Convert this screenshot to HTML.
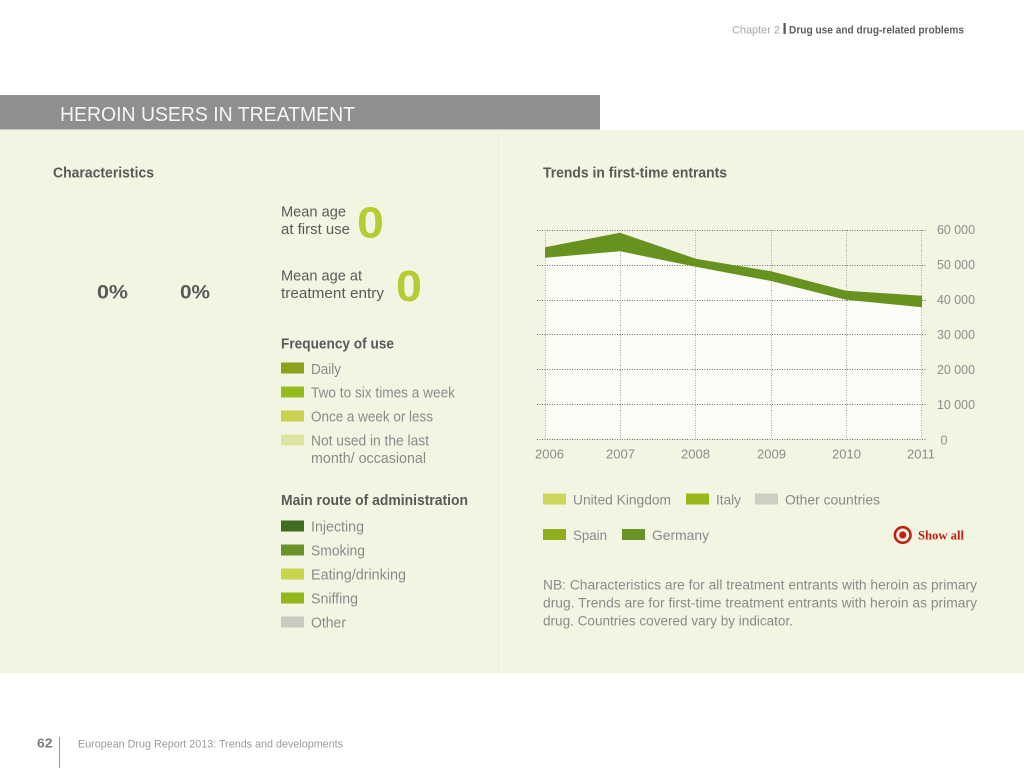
<!DOCTYPE html>
<html><head><meta charset="utf-8"><style>
html,body{margin:0;padding:0;background:#fff;}
svg{display:block;font-family:"Liberation Sans",sans-serif;}
</style></head><body>
<svg width="1024" height="768" viewBox="0 0 1024 768" xmlns="http://www.w3.org/2000/svg">
<rect x="0" y="0" width="1024" height="768" fill="#ffffff"/>
<!-- header -->
<text x="732" y="33.5" font-size="11" fill="#a8a8a8" textLength="48" lengthAdjust="spacingAndGlyphs">Chapter 2</text>
<rect x="783.5" y="23" width="2.2" height="11" fill="#555"/>
<text x="789" y="33.5" font-size="11" font-weight="bold" fill="#5e5e5e" textLength="175" lengthAdjust="spacingAndGlyphs">Drug use and drug-related problems</text>

<!-- panel -->
<rect x="0" y="130" width="1024" height="543" fill="#f2f5e2"/>
<rect x="0" y="130" width="498" height="543" fill="#f3f5e3"/>
<rect x="498" y="130" width="1" height="543" fill="#eceedb"/>
<!-- title bar -->
<rect x="0" y="95" width="600" height="34.5" fill="#8f8f91"/>
<text x="60" y="121" font-size="20" fill="#f6f6f6" textLength="295" lengthAdjust="spacingAndGlyphs">HEROIN USERS IN TREATMENT</text>

<!-- left panel -->
<text x="53" y="177.5" font-size="14.5" font-weight="bold" fill="#595959" textLength="101" lengthAdjust="spacingAndGlyphs">Characteristics</text>
<text x="97" y="298.5" font-size="19" font-weight="bold" fill="#5a5a5a" textLength="31" lengthAdjust="spacingAndGlyphs">0%</text>
<text x="180" y="298.5" font-size="19" font-weight="bold" fill="#5a5a5a" textLength="30" lengthAdjust="spacingAndGlyphs">0%</text>

<text x="281" y="216.5" font-size="14.5" fill="#5a5a5a" textLength="65" lengthAdjust="spacingAndGlyphs">Mean age</text>
<text x="281" y="234" font-size="14.5" fill="#5a5a5a" textLength="69" lengthAdjust="spacingAndGlyphs">at first use</text>
<text x="357" y="237.5" font-size="44" font-weight="bold" fill="#b7cb33" textLength="27" lengthAdjust="spacingAndGlyphs">0</text>

<text x="281" y="280.5" font-size="14.5" fill="#5a5a5a" textLength="81" lengthAdjust="spacingAndGlyphs">Mean age at</text>
<text x="281" y="298" font-size="14.5" fill="#5a5a5a" textLength="103" lengthAdjust="spacingAndGlyphs">treatment entry</text>
<text x="396" y="301" font-size="44" font-weight="bold" fill="#b7cb33" textLength="26" lengthAdjust="spacingAndGlyphs">0</text>

<text x="281" y="348.5" font-size="14.5" font-weight="bold" fill="#595959" textLength="113" lengthAdjust="spacingAndGlyphs">Frequency of use</text>
<rect x="281" y="362.5" width="23" height="11" fill="#8ba21d"/>
<text x="311" y="374" font-size="14.5" fill="#8a8a8a" textLength="30" lengthAdjust="spacingAndGlyphs">Daily</text>
<rect x="281" y="386.5" width="23" height="11" fill="#97bb1a"/>
<text x="311" y="397.5" font-size="14.5" fill="#8a8a8a" textLength="144" lengthAdjust="spacingAndGlyphs">Two to six times a week</text>
<rect x="281" y="410.5" width="23" height="11" fill="#c9d14f"/>
<text x="311" y="421.5" font-size="14.5" fill="#8a8a8a" textLength="122" lengthAdjust="spacingAndGlyphs">Once a week or less</text>
<rect x="281" y="434.5" width="23" height="11" fill="#dde3a0"/>
<text x="311" y="445.5" font-size="14.5" fill="#8a8a8a" textLength="118" lengthAdjust="spacingAndGlyphs">Not used in the last</text>
<text x="311" y="463" font-size="14.5" fill="#8a8a8a" textLength="115" lengthAdjust="spacingAndGlyphs">month/ occasional</text>

<text x="281" y="505" font-size="14.5" font-weight="bold" fill="#595959" textLength="187" lengthAdjust="spacingAndGlyphs">Main route of administration</text>
<rect x="281" y="520.5" width="23" height="11" fill="#3f6c20"/>
<text x="311" y="531.5" font-size="14.5" fill="#8a8a8a" textLength="53" lengthAdjust="spacingAndGlyphs">Injecting</text>
<rect x="281" y="544.5" width="23" height="11" fill="#6b9329"/>
<text x="311" y="555.5" font-size="14.5" fill="#8a8a8a" textLength="54" lengthAdjust="spacingAndGlyphs">Smoking</text>
<rect x="281" y="568.5" width="23" height="11" fill="#c9d44d"/>
<text x="311" y="579.5" font-size="14.5" fill="#8a8a8a" textLength="95" lengthAdjust="spacingAndGlyphs">Eating/drinking</text>
<rect x="281" y="592.5" width="23" height="11" fill="#91b71b"/>
<text x="311" y="603.5" font-size="14.5" fill="#8a8a8a" textLength="47" lengthAdjust="spacingAndGlyphs">Sniffing</text>
<rect x="281" y="616.5" width="23" height="11" fill="#c9cbc0"/>
<text x="311" y="627.5" font-size="14.5" fill="#8a8a8a" textLength="35" lengthAdjust="spacingAndGlyphs">Other</text>

<!-- right panel -->
<text x="543" y="177.5" font-size="14.5" font-weight="bold" fill="#595959" textLength="184" lengthAdjust="spacingAndGlyphs">Trends in first-time entrants</text>

<!-- plot light fill -->
<polygon points="545,257.7 620,251.3 695.7,266.7 771,281 846,299.7 922,307.3 922,439.3 545,439.3" fill="#fbfcf6"/>

<!-- horizontal gridlines -->
<g stroke="#6e6e6e" stroke-width="1" stroke-dasharray="1,1.5">
<line x1="537" y1="230.5" x2="927" y2="230.5"/>
<line x1="537" y1="265.5" x2="927" y2="265.5"/>
<line x1="537" y1="300.5" x2="927" y2="300.5"/>
<line x1="537" y1="334.5" x2="927" y2="334.5"/>
<line x1="537" y1="369.5" x2="927" y2="369.5"/>
<line x1="537" y1="404.5" x2="927" y2="404.5"/>
<line x1="537" y1="439.5" x2="927" y2="439.5"/>
</g>
<!-- vertical gridlines -->
<g stroke="#a5a5a5" stroke-width="1" stroke-dasharray="1,1.5">
<line x1="545.5" y1="230" x2="545.5" y2="439"/>
<line x1="620.5" y1="230" x2="620.5" y2="439"/>
<line x1="695.5" y1="230" x2="695.5" y2="439"/>
<line x1="771.5" y1="230" x2="771.5" y2="439"/>
<line x1="846.5" y1="230" x2="846.5" y2="439"/>
<line x1="921.5" y1="230" x2="921.5" y2="439"/>
</g>

<!-- band -->
<polygon points="545,247.3 620,232.7 695.7,258.7 771,271.3 846,290.7 922,295.7 922,307.3 846,299.7 771,281 695.7,266.7 620,251.3 545,257.7" fill="#68921f"/>

<!-- y labels -->
<g font-size="13" fill="#8c8c8c">
<text x="937" y="234" textLength="38" lengthAdjust="spacingAndGlyphs">60 000</text>
<text x="937" y="269" textLength="38" lengthAdjust="spacingAndGlyphs">50 000</text>
<text x="937" y="304" textLength="38" lengthAdjust="spacingAndGlyphs">40 000</text>
<text x="937" y="339" textLength="38" lengthAdjust="spacingAndGlyphs">30 000</text>
<text x="937" y="374" textLength="38" lengthAdjust="spacingAndGlyphs">20 000</text>
<text x="937" y="409" textLength="38" lengthAdjust="spacingAndGlyphs">10 000</text>
<text x="940.5" y="444.5" textLength="7" lengthAdjust="spacingAndGlyphs">0</text>
</g>
<!-- x labels -->
<g font-size="13" fill="#8c8c8c">
<text x="535" y="458.5" textLength="29" lengthAdjust="spacingAndGlyphs">2006</text>
<text x="606" y="458.5" textLength="29" lengthAdjust="spacingAndGlyphs">2007</text>
<text x="681" y="458.5" textLength="29" lengthAdjust="spacingAndGlyphs">2008</text>
<text x="757" y="458.5" textLength="29" lengthAdjust="spacingAndGlyphs">2009</text>
<text x="832" y="458.5" textLength="29" lengthAdjust="spacingAndGlyphs">2010</text>
<text x="907" y="458.5" textLength="28" lengthAdjust="spacingAndGlyphs">2011</text>
</g>

<!-- legend -->
<rect x="543" y="493.5" width="23" height="11" fill="#cdd65a"/>
<text x="573" y="504.5" font-size="14" fill="#8a8a8a" textLength="98" lengthAdjust="spacingAndGlyphs">United Kingdom</text>
<rect x="686" y="493.5" width="23" height="11" fill="#98b81a"/>
<text x="716" y="504.5" font-size="14" fill="#8a8a8a" textLength="25" lengthAdjust="spacingAndGlyphs">Italy</text>
<rect x="755" y="493.5" width="23" height="11" fill="#cdcfc2"/>
<text x="785" y="504.5" font-size="14" fill="#8a8a8a" textLength="95" lengthAdjust="spacingAndGlyphs">Other countries</text>
<rect x="543" y="529" width="23" height="11" fill="#8fae1a"/>
<text x="573" y="540" font-size="14" fill="#8a8a8a" textLength="34" lengthAdjust="spacingAndGlyphs">Spain</text>
<rect x="622" y="529" width="23" height="11" fill="#6a9226"/>
<text x="652" y="540" font-size="14" fill="#8a8a8a" textLength="57" lengthAdjust="spacingAndGlyphs">Germany</text>

<!-- show all -->
<circle cx="902.7" cy="535" r="7.8" fill="none" stroke="#c41e14" stroke-width="2.6"/>
<circle cx="902.7" cy="535" r="3.6" fill="#c41e14"/>
<text x="918" y="539.5" font-family="Liberation Serif, serif" font-size="13" font-weight="bold" fill="#c41e14" textLength="46" lengthAdjust="spacingAndGlyphs">Show all</text>

<!-- NB -->
<g font-size="13.5" fill="#8a8a8a">
<text x="543" y="589.5" textLength="434" lengthAdjust="spacingAndGlyphs">NB: Characteristics are for all treatment entrants with heroin as primary</text>
<text x="543" y="607.5" textLength="434" lengthAdjust="spacingAndGlyphs">drug. Trends are for first-time treatment entrants with heroin as primary</text>
<text x="543" y="625.5" textLength="250" lengthAdjust="spacingAndGlyphs">drug. Countries covered vary by indicator.</text>
</g>

<!-- footer -->
<text x="37" y="747.5" font-size="13" font-weight="bold" fill="#7a7a7a" textLength="15.5" lengthAdjust="spacingAndGlyphs">62</text>
<rect x="59" y="737" width="1" height="31" fill="#9a9a9a"/>
<text x="78" y="747.5" font-size="11" fill="#9a9a9a" textLength="265" lengthAdjust="spacingAndGlyphs">European Drug Report 2013: Trends and developments</text>
</svg>
</body></html>
